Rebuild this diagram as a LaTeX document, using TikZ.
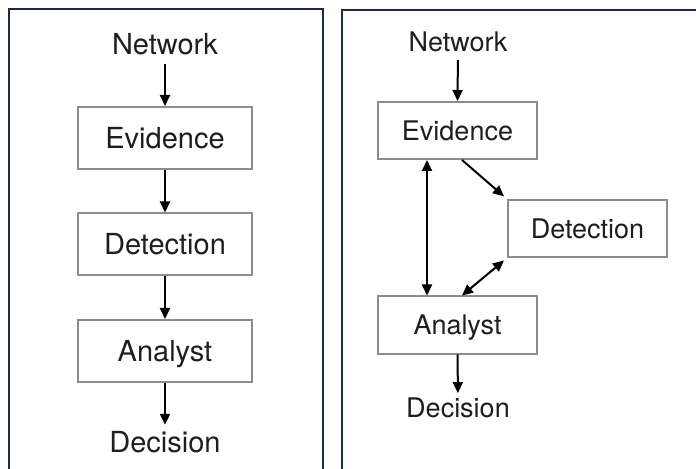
\documentclass[tikz,border=0pt]{standalone}
\usepackage{fontspec}
\setmainfont{TeX Gyre Heros}
\usetikzlibrary{arrows.meta}
\definecolor{panel}{RGB}{28,40,78}
\definecolor{boxgray}{RGB}{140,140,140}
\definecolor{txt}{RGB}{30,30,30}
\begin{document}
\begin{tikzpicture}[x=1bp,y=-1bp,
  lblL/.style={inner sep=0pt,text=txt,font=\fontsize{29bp}{34bp}\selectfont,text height=20.9bp,text depth=0pt},
  lblR/.style={inner sep=0pt,text=txt,font=\fontsize{27bp}{32bp}\selectfont,text height=19.4bp,text depth=0pt},
  boxL/.style={lblL,draw=boxgray,line width=2bp,minimum width=174bp,minimum height=62bp},
  boxR/.style={lblR,draw=boxgray,line width=2bp,minimum width=159bp,minimum height=57bp},
  arr/.style={line width=2bp,black,-{Triangle[length=11bp,width=10bp]}},
  darr/.style={line width=2bp,black,{Triangle[length=11bp,width=10bp]}-{Triangle[length=11bp,width=10bp]}},
  frame/.style={draw=panel,line width=2.5bp}]
\useasboundingbox (0,0) rectangle (696,469);
\begin{scope}
\clip (0,0) rectangle (696,469);
\draw[frame] (9,475) -- (9,9) -- (323,9) -- (323,475);
\draw[frame] (342,475) -- (342,10) -- (700,10);
\end{scope}
% left panel
\node[lblL] (netL) at (165,44) {Network};
\node[boxL] (evL) at (165,138) {Evidence};
\node[boxL] (detL) at (165,244.5) {Detection};
\node[boxL] (anaL) at (165,351) {Analyst};
\node[lblL] (decL) at (165,442) {Decision};
\draw[arr,shorten <=9bp] (netL.south) -- (evL.north);
\draw[arr] (evL.south) -- (detL.north);
\draw[arr] (detL.south) -- (anaL.north);
\draw[arr,shorten >=6.5bp] (anaL.south) -- (decL.north);
% right panel
\node[lblR] (netR) at (458,42) {Network};
\node[boxR] (evR) at (457.5,130.5) {Evidence};
\node[boxR] (detR) at (587.5,228.5) {Detection};
\node[boxR] (anaR) at (457.5,325) {Analyst};
\node[lblR] (decR) at (458,408) {Decision};
\draw[arr,shorten <=8bp] (netR.south) -- (evR.north);
\draw[darr] ([xshift=-30.5bp]evR.south) -- ([xshift=-30.5bp]anaR.north);
\draw[arr,shorten >=4bp] ([xshift=4.5bp]evR.south) -- (detR.north west);
\draw[darr,shorten <=4bp] (detR.south west) -- ([xshift=4.5bp]anaR.north);
\draw[arr,shorten >=5bp] (anaR.south) -- (decR.north);
\end{tikzpicture}
\end{document}
